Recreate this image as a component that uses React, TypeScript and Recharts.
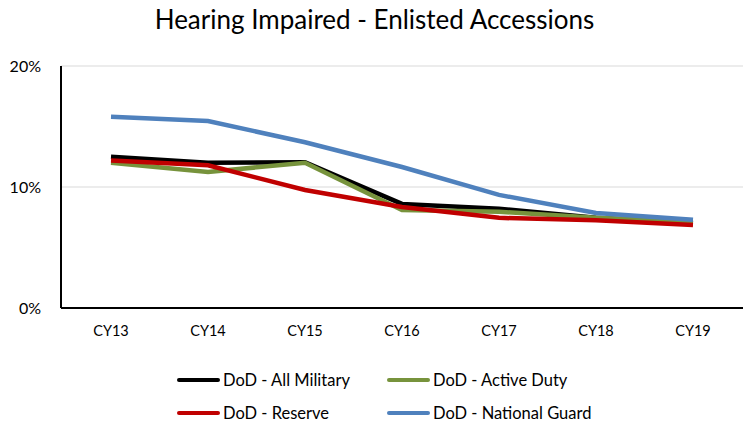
import { LineChart, Line, XAxis, YAxis, CartesianGrid, Legend } from 'recharts';

const years = ['CY13', 'CY14', 'CY15', 'CY16', 'CY17', 'CY18', 'CY19'];
const allMilitary = [0.125, 0.12, 0.1205, 0.086, 0.082, 0.0745, 0.07];
const activeDuty = [0.12, 0.1125, 0.12, 0.081, 0.0795, 0.0745, 0.071];
const reserve = [0.122, 0.118, 0.0975, 0.0835, 0.0745, 0.0725, 0.0685];
const nationalGuard = [0.158, 0.1545, 0.137, 0.1165, 0.0935, 0.0785, 0.073];
const yTicks = [0, 0.1, 0.2];

const data = years.map((year, i) => ({
  year,
  allMilitary: allMilitary[i],
  activeDuty: activeDuty[i],
  reserve: reserve[i],
  nationalGuard: nationalGuard[i],
}));

const SERIES = [
  { key: 'allMilitary', name: 'DoD - All Military', color: '#000000' },
  { key: 'activeDuty', name: 'DoD - Active Duty', color: '#77933c' },
  { key: 'reserve', name: 'DoD - Reserve', color: '#c00000' },
  { key: 'nationalGuard', name: 'DoD - National Guard', color: '#4f81bd' },
];

const FONT = 'Lato, "Open Sans", sans-serif';

const LegendBox = () => (
  <div
    style={{
      display: 'grid',
      gridTemplateColumns: '210px 260px',
      rowGap: 12,
      paddingLeft: 177,
      paddingTop: 10,
      fontFamily: FONT,
      fontSize: 16.5,
      color: '#000',
      whiteSpace: 'nowrap',
    }}
  >
    {SERIES.map((s) => (
      <div key={s.key} style={{ display: 'flex', alignItems: 'center', height: 21 }}>
        <span
          style={{
            display: 'inline-block',
            width: 43,
            height: 4,
            borderRadius: 2,
            background: s.color,
            marginRight: 3,
            flexShrink: 0,
          }}
        />
        {s.name}
      </div>
    ))}
  </div>
);

export default function App() {
  return (
    <div style={{ position: 'absolute', left: 0, top: 0, width: 749, height: 429, background: '#fff' }}>
      <div
        style={{
          position: 'absolute',
          top: 3,
          width: 749,
          textAlign: 'center',
          fontFamily: FONT,
          fontSize: 26,
          color: '#000',
        }}
      >
        Hearing Impaired - Enlisted Accessions
      </div>
      <LineChart width={749} height={429} data={data} margin={{ top: 66, right: 6, bottom: 0, left: 0 }}>
        <CartesianGrid vertical={false} stroke="#d9d9d9" strokeWidth={1} />
        <XAxis
          dataKey="year"
          axisLine={{ stroke: '#000', strokeWidth: 2 }}
          tickLine={false}
          tick={{ fontSize: 14.5, fill: '#000', fontFamily: FONT }}
          height={51}
          tickMargin={12}
          padding={{ left: 50, right: 50 }}
        />
        <YAxis
          domain={[0, 0.2]}
          ticks={yTicks}
          tickFormatter={(v: number) => `${Math.round(v * 100)}%`}
          axisLine={{ stroke: '#000', strokeWidth: 2 }}
          tickLine={false}
          tick={{ fontSize: 16, fill: '#000', fontFamily: FONT }}
          width={61}
          tickMargin={14}
        />
        <Legend verticalAlign="bottom" height={70} content={() => <LegendBox />} />
        {SERIES.map((s) => (
          <Line
            key={s.key}
            type="linear"
            dataKey={s.key}
            name={s.name}
            stroke={s.color}
            strokeWidth={4.5}
            dot={false}
            isAnimationActive={false}
          />
        ))}
      </LineChart>
    </div>
  );
}
